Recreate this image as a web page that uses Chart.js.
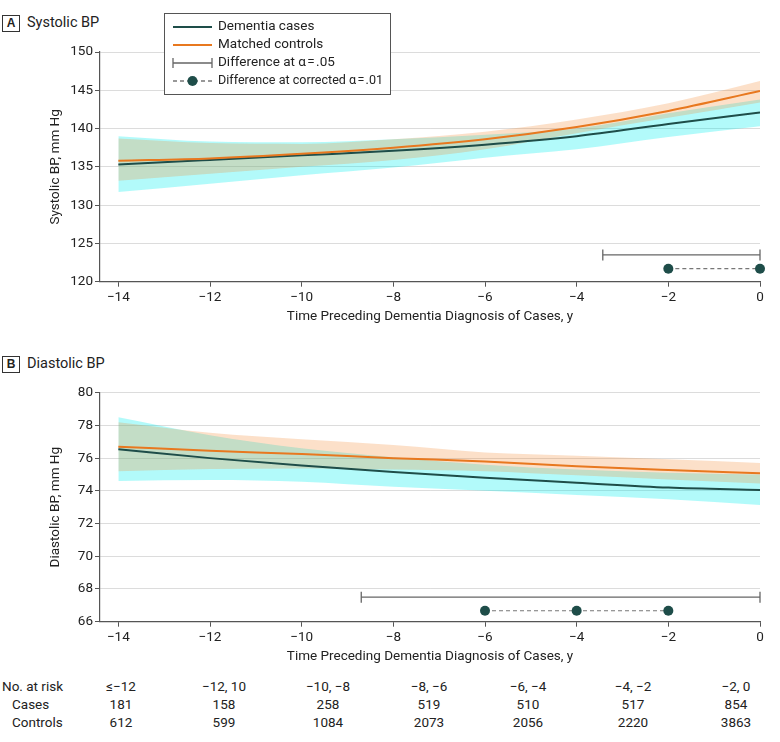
<!DOCTYPE html>
<html lang="en">
<head>
    <meta charset="UTF-8">
    <title>Blood pressure before dementia diagnosis</title>
    <script src="https://cdn.jsdelivr.net/npm/chart.js"></script>
    <style>
        body { margin: 0; background: #fff; color: #222; font-family: 'Roboto', sans-serif; }
        #page { position: relative; width: 780px; height: 742px; overflow: hidden; }
        .panel { position: absolute; left: 0; width: 780px; height: 330px; }
        .tag { position: absolute; left: 2px; width: 16px; height: 15px; border: 1px solid #333;
               font: bold 12px 'Liberation Sans', sans-serif; text-align: center; line-height: 15px; }
        .tag-title { position: absolute; left: 27px; font-size: 14.5px; line-height: 18px; }
        .cell { position: absolute; width: 90px; margin-left: -45px; text-align: center; font-size: 13.5px; line-height: 16px; }
        .rowlabel { position: absolute; font-size: 13.5px; line-height: 16px; }
    </style>
</head>
<body>
<div id="page">
    <div class="tag" style="top:15px;">A</div>
    <div class="tag-title" style="top:14px;">Systolic BP</div>
    <canvas id="chartA" class="panel" style="top:0;" width="780" height="330"></canvas>

    <div class="tag" style="top:356px;">B</div>
    <div class="tag-title" style="top:355px;">Diastolic BP</div>
    <canvas id="chartB" class="panel" style="top:340px;" width="780" height="330"></canvas>

    <div id="risk"></div>
</div>

<script>
    // Años antes del diagnóstico
    const years = [-14, -12, -10, -8, -6, -4, -2, 0];

    // Presión sistólica (mm Hg)
    const sysCases = [135.3, 135.9, 136.5, 137.1, 137.9, 139.0, 140.6, 142.1];
    const sysControls = [135.8, 136.1, 136.7, 137.5, 138.6, 140.2, 142.3, 144.9];
    const sysCasesLow = [131.7, 132.8, 133.9, 134.9, 136.2, 137.3, 138.9, 140.3];
    const sysCasesHigh = [139.0, 138.3, 138.2, 138.6, 139.2, 140.0, 142.0, 143.8];
    const sysControlsLow = [133.2, 134.1, 135.0, 135.9, 137.3, 139.4, 141.4, 143.4];
    const sysControlsHigh = [138.7, 138.1, 138.0, 138.6, 139.6, 141.2, 143.3, 146.2];
    const sysDiffSpan = [-3.43, 0];      // diferencia a alfa .05
    const sysDiffLevel = 123.5;
    const sysSigYears = [-2, 0];         // diferencia a alfa corregido .01
    const sysSigLevel = 121.7;

    // Presión diastólica (mm Hg)
    const diaCases = [76.55, 76.0, 75.55, 75.15, 74.8, 74.5, 74.2, 74.05];
    const diaControls = [76.7, 76.45, 76.25, 76.0, 75.8, 75.5, 75.27, 75.07];
    const diaCasesLow = [74.6, 74.66, 74.56, 74.25, 74.0, 73.74, 73.48, 73.13];
    const diaCasesHigh = [78.5, 77.4, 76.6, 76.05, 75.6, 75.3, 75.1, 75.0];
    const diaControlsLow = [75.2, 75.33, 75.37, 75.3, 75.2, 74.95, 74.7, 74.45];
    const diaControlsHigh = [78.2, 77.55, 77.15, 76.8, 76.35, 76.15, 75.93, 75.7];
    const diaDiffSpan = [-8.7, 0];
    const diaDiffLevel = 67.5;
    const diaSigYears = [-6, -4, -2];
    const diaSigLevel = 66.67;

    // Tabla de número en riesgo
    const riskBins = ['\u2264\u221212', '\u221212, 10', '\u221210, \u22128', '\u22128, \u22126', '\u22126, \u22124', '\u22124, \u22122', '\u22122, 0'];
    const riskCases = [181, 158, 258, 519, 510, 517, 854];
    const riskControls = [612, 599, 1084, 2073, 2056, 2220, 3863];

    const TEAL = '#1e4d49';
    const ORANGE = '#e8781f';
    const FONT = "'Roboto', sans-serif";

    Chart.defaults.font.family = FONT;
    Chart.defaults.font.size = 13.5;
    Chart.defaults.color = '#222';

    const pts = (ys) => years.map((x, i) => ({ x: x, y: ys[i] }));
    const minus = (v) => v < 0 ? '\u2212' + Math.abs(v) : String(v);

    // Leyenda dibujada dentro del panel A
    const legendBox = {
        id: 'legendBox',
        afterDraw(chart) {
            const ctx = chart.ctx;
            ctx.save();
            ctx.fillStyle = '#fff';
            ctx.strokeStyle = '#555';
            ctx.lineWidth = 1;
            ctx.fillRect(164.5, 13.5, 226, 81);
            ctx.strokeRect(164.5, 13.5, 226, 81);
            const x0 = 173, x1 = 212, rows = [27, 45, 63, 81];
            ctx.lineWidth = 2;
            ctx.strokeStyle = TEAL;
            ctx.beginPath(); ctx.moveTo(x0, rows[0]); ctx.lineTo(x1, rows[0]); ctx.stroke();
            ctx.strokeStyle = ORANGE;
            ctx.beginPath(); ctx.moveTo(x0, rows[1]); ctx.lineTo(x1, rows[1]); ctx.stroke();
            ctx.lineWidth = 1.3;
            ctx.strokeStyle = '#666';
            ctx.beginPath();
            ctx.moveTo(x0, rows[2]); ctx.lineTo(x1, rows[2]);
            ctx.moveTo(x0, rows[2] - 5); ctx.lineTo(x0, rows[2] + 5);
            ctx.moveTo(x1, rows[2] - 5); ctx.lineTo(x1, rows[2] + 5);
            ctx.stroke();
            ctx.setLineDash([4, 3]);
            ctx.strokeStyle = '#777';
            ctx.beginPath(); ctx.moveTo(x0, rows[3]); ctx.lineTo(x1, rows[3]); ctx.stroke();
            ctx.setLineDash([]);
            ctx.fillStyle = TEAL;
            ctx.beginPath(); ctx.arc((x0 + x1) / 2, rows[3], 5, 0, Math.PI * 2); ctx.fill();
            ctx.fillStyle = '#222';
            ctx.font = '13.5px ' + FONT;
            ctx.textBaseline = 'middle';
            const labels = ['Dementia cases', 'Matched controls', 'Difference at \u03b1\u200a=\u200a.05', 'Difference at corrected \u03b1\u200a=\u200a.01'];
            labels.forEach((t, i) => ctx.fillText(t, 218, rows[i], 165));
            ctx.restore();
        }
    };

    function makePanel(id, opts) {
        const datasets = [
            { data: pts(opts.controls), borderColor: ORANGE, borderWidth: 2, pointRadius: 0, cubicInterpolationMode: 'monotone', fill: false },
            { data: pts(opts.cases), borderColor: TEAL, borderWidth: 2, pointRadius: 0, cubicInterpolationMode: 'monotone', fill: false },
            { data: opts.diffSpan.map(x => ({ x: x, y: opts.diffLevel })), borderColor: '#666', borderWidth: 1.3,
              pointStyle: 'line', rotation: 90, pointRadius: 5.5, pointBorderColor: '#666', pointBorderWidth: 1.3, fill: false, clip: false },
            { data: opts.sigYears.map(x => ({ x: x, y: opts.sigLevel })), borderColor: '#777', borderWidth: 1.2, borderDash: [4, 3],
              pointRadius: 5, pointBackgroundColor: TEAL, pointBorderColor: TEAL, pointBorderWidth: 0, fill: false, clip: false },
            { data: pts(opts.controlsLow), borderWidth: 0, pointRadius: 0, cubicInterpolationMode: 'monotone', fill: false },
            { data: pts(opts.controlsHigh), borderWidth: 0, pointRadius: 0, cubicInterpolationMode: 'monotone', fill: 4, backgroundColor: 'rgba(245,130,40,0.25)' },
            { data: pts(opts.casesLow), borderWidth: 0, pointRadius: 0, cubicInterpolationMode: 'monotone', fill: false },
            { data: pts(opts.casesHigh), borderWidth: 0, pointRadius: 0, cubicInterpolationMode: 'monotone', fill: 6, backgroundColor: 'rgba(0,240,240,0.3)' }
        ];
        return new Chart(document.getElementById(id), {
            type: 'line',
            data: { datasets: datasets },
            plugins: opts.plugins || [],
            options: {
                responsive: false,
                animation: false,
                layout: { padding: { top: opts.padTop, right: 20, left: 0, bottom: 0 } },
                plugins: { legend: { display: false }, tooltip: { enabled: false } },
                scales: {
                    x: {
                        type: 'linear', min: -14.4, max: 0,
                        afterBuildTicks: s => { s.ticks = years.map(v => ({ value: v })); },
                        afterFit: s => { s.height = 48.3; },
                        ticks: { callback: minus, padding: 3, maxRotation: 0 },
                        grid: { drawOnChartArea: false, tickLength: 5, tickColor: '#555' },
                        border: { color: '#555', width: 1.2 },
                        title: { display: true, text: 'Time Preceding Dementia Diagnosis of Cases, y', padding: { top: 0, bottom: 4.9 } }
                    },
                    y: {
                        min: opts.yMin, max: opts.yMax,
                        afterFit: s => { s.width = 100; },
                        ticks: { stepSize: opts.yStep, padding: 2 },
                        grid: { color: '#dcdcdc', tickLength: 5, tickColor: '#555' },
                        border: { color: '#555', width: 1.2 },
                        title: { display: true, text: opts.yTitle, padding: { top: 47.9, bottom: 0 } }
                    }
                }
            }
        });
    }

    makePanel('chartA', {
        cases: sysCases, controls: sysControls, casesLow: sysCasesLow, casesHigh: sysCasesHigh,
        controlsLow: sysControlsLow, controlsHigh: sysControlsHigh,
        diffSpan: sysDiffSpan, diffLevel: sysDiffLevel, sigYears: sysSigYears, sigLevel: sysSigLevel,
        yMin: 120, yMax: 150, yStep: 5, yTitle: 'Systolic BP, mm Hg', padTop: 52, plugins: [legendBox]
    });

    makePanel('chartB', {
        cases: diaCases, controls: diaControls, casesLow: diaCasesLow, casesHigh: diaCasesHigh,
        controlsLow: diaControlsLow, controlsHigh: diaControlsHigh,
        diffSpan: diaDiffSpan, diffLevel: diaDiffLevel, sigYears: diaSigYears, sigLevel: diaSigLevel,
        yMin: 66, yMax: 80, yStep: 2, yTitle: 'Diastolic BP, mm Hg', padTop: 52.7
    });

    // Tabla "No. at risk"
    const risk = document.getElementById('risk');
    const colX = [121, 224, 328, 429, 528, 633, 736];
    const rowY = [678, 696, 714];
    function addCell(cls, text, left, top) {
        const d = document.createElement('div');
        d.className = cls;
        d.textContent = text;
        d.style.left = left + 'px';
        d.style.top = top + 'px';
        risk.appendChild(d);
    }
    addCell('rowlabel', 'No. at risk', 2, rowY[0]);
    addCell('rowlabel', 'Cases', 12, rowY[1]);
    addCell('rowlabel', 'Controls', 12, rowY[2]);
    riskBins.forEach((t, i) => addCell('cell', t, colX[i], rowY[0]));
    riskCases.forEach((v, i) => addCell('cell', v, colX[i], rowY[1]));
    riskControls.forEach((v, i) => addCell('cell', v, colX[i], rowY[2]));
</script>
</body>
</html>
